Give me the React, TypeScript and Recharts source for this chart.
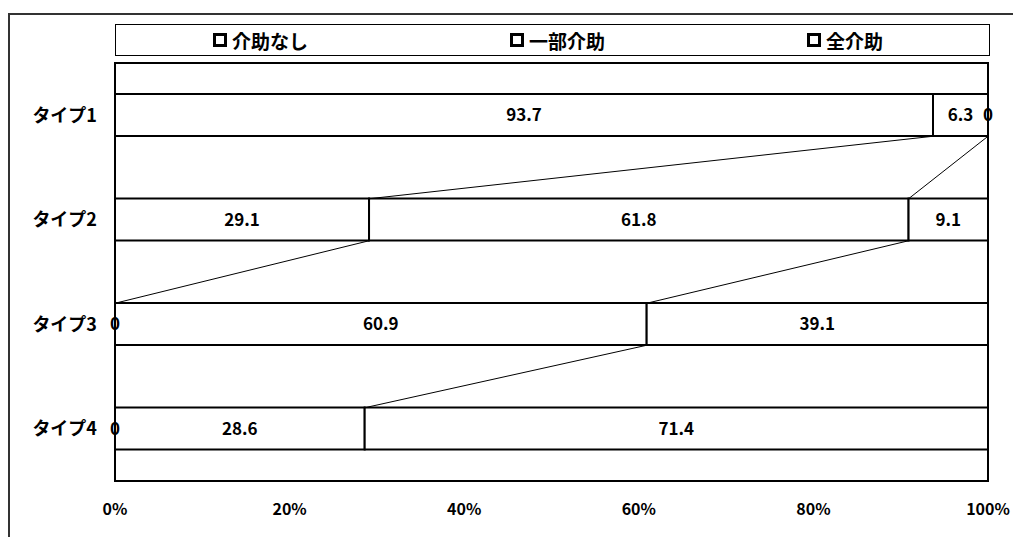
import { BarChart, Bar, XAxis, YAxis, LabelList, ReferenceLine, ReferenceArea, ReferenceDot } from 'recharts';

const categories = ['タイプ1', 'タイプ2', 'タイプ3', 'タイプ4'];
const seriesNames = ['介助なし', '一部介助', '全介助'];
const noAssist = [93.7, 29.1, 0, 0];
const partialAssist = [6.3, 61.8, 60.9, 28.6];
const fullAssist = [0, 9.1, 39.1, 71.4];
const xTicks = [0, 20, 40, 60, 80, 100];

const seriesKeys = ['none', 'partial', 'full'];
const seriesValues = [noAssist, partialAssist, fullAssist];

const data = categories.map((name, i) => ({
  name,
  none: noAssist[i],
  partial: partialAssist[i],
  full: fullAssist[i],
}));

const BAR_SIZE = 42;
const FONT = "'Noto Sans CJK JP', 'Liberation Sans', sans-serif";

const round1 = (v: number) => Math.round(v * 10) / 10;

// Excel-style series lines: each cumulative boundary, from the bottom of one bar to the top of the next
const seriesLines: { key: string; from: number; to: number; a: string; b: string }[] = [];
for (let i = 0; i < categories.length - 1; i++) {
  let cumA = 0;
  let cumB = 0;
  seriesValues.forEach((s, j) => {
    cumA += s[i];
    cumB += s[i + 1];
    seriesLines.push({ key: `${i}-${j}`, from: round1(cumA), to: round1(cumB), a: categories[i], b: categories[i + 1] });
  });
}

// zero-width segments still get a "0" label at their position
const zeroLabels: { key: string; x: number; y: string }[] = [];
categories.forEach((c, i) => {
  let cum = 0;
  seriesValues.forEach((s, j) => {
    if (s[i] === 0) zeroLabels.push({ key: `${i}-${j}`, x: round1(cum), y: c });
    cum += s[i];
  });
});

const SeriesLine = (props: any) => (
  <line
    x1={props.x1}
    y1={props.y1 + BAR_SIZE / 2}
    x2={props.x2}
    y2={props.y2 - BAR_SIZE / 2}
    stroke="#000"
    strokeWidth={1}
  />
);

export default function App() {
  return (
    <div style={{ position: 'fixed', left: 0, top: 0, width: 1013, height: 537, overflow: 'hidden', fontFamily: FONT, background: '#fff' }}>
      {/* outer frame (only top/left edges visible in the scan) */}
      <div style={{ position: 'absolute', left: 8, top: 13, width: 1020, height: 540, borderTop: '2px solid #333', borderLeft: '2px solid #333' }} />

      {/* Legend */}
      <div
        style={{
          position: 'absolute',
          left: 115,
          top: 24,
          width: 875,
          height: 32,
          boxSizing: 'border-box',
          border: '1.5px solid #000',
          display: 'flex',
          alignItems: 'center',
          justifyContent: 'space-between',
          padding: '0 106px 0 97px',
          fontSize: 19,
          fontWeight: 700,
          color: '#000',
        }}
      >
        {seriesNames.map((n) => (
          <div key={n} style={{ display: 'flex', alignItems: 'center', gap: 5 }}>
            <div style={{ width: 8, height: 8, border: '3px solid #000', background: '#fff' }} />
            <span>{n}</span>
          </div>
        ))}
      </div>

      <BarChart
        width={1013}
        height={537}
        data={data}
        layout="vertical"
        margin={{ top: 63, right: 25, bottom: 16, left: 15 }}
        style={{ position: 'absolute', left: 0, top: 0, fontFamily: FONT }}
      >
        <XAxis
          type="number"
          domain={[0, 100]}
          ticks={xTicks}
          tickFormatter={(v) => `${v}%`}
          axisLine={false}
          tickLine={false}
          tickSize={0}
          tickMargin={23}
          height={40}
          tick={{ fill: '#000', fontSize: 16, fontWeight: 700 }}
        />
        <YAxis
          type="category"
          dataKey="name"
          width={100}
          axisLine={false}
          tickLine={false}
          tickSize={0}
          tickMargin={18}
          tick={{ fill: '#000', fontSize: 18, fontWeight: 700 }}
        />
        <ReferenceArea x1={0} x2={100} fill="none" stroke="#000" strokeWidth={2} fillOpacity={0} />
        {seriesKeys.map((k) => (
          <Bar key={k} dataKey={k} stackId="a" fill="#fff" stroke="#000" strokeWidth={2} barSize={BAR_SIZE} isAnimationActive={false}>
            <LabelList dataKey={k} position="center" fill="#000" fontSize={17} fontWeight={700} />
          </Bar>
        ))}
        {seriesLines.map((l) => (
          <ReferenceLine
            key={l.key}
            segment={[
              { x: l.from, y: l.a },
              { x: l.to, y: l.b },
            ]}
            shape={SeriesLine}
          />
        ))}
        {zeroLabels.map((z) => (
          <ReferenceDot
            key={z.key}
            x={z.x}
            y={z.y}
            r={0}
            stroke="none"
            fill="none"
            label={{ value: '0', position: 'center', fill: '#000', fontSize: 17, fontWeight: 700 }}
          />
        ))}
      </BarChart>
    </div>
  );
}
